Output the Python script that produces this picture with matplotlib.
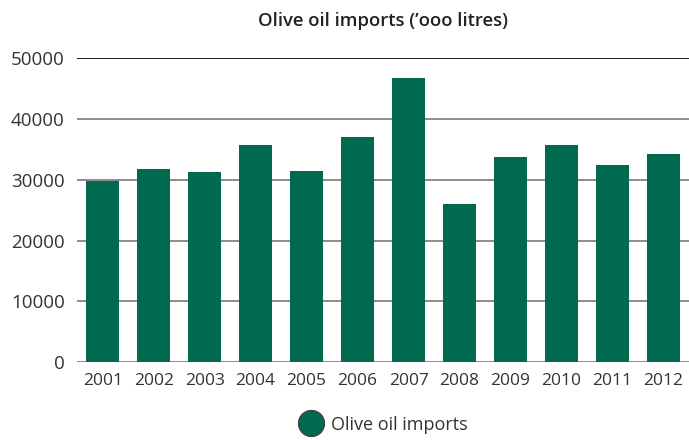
from matplotlib import pyplot as plt
from matplotlib.lines import Line2D

years = ['2001', '2002', '2003', '2004', '2005', '2006',
         '2007', '2008', '2009', '2010', '2011', '2012']
imports = [29800, 31800, 31300, 35700, 31400, 37000,
           46700, 26000, 33700, 35700, 32400, 34200]
y_ticks = [0, 10000, 20000, 30000, 40000, 50000]

green = '#006950'
text_color = '#333333'

plt.rcParams['font.family'] = ['Open Sans', 'DejaVu Sans']

fig = plt.figure(figsize=(6.89, 4.40), dpi=100)
ax = fig.add_axes([0.112, 0.177, 0.888, 0.691])

x = range(len(years))
ax.bar(x, imports, width=0.65, color=green, zorder=3)

ax.set_xlim(-0.5, len(years) - 0.5)
ax.set_ylim(0, 50000)
ax.set_xticks(list(x))
ax.set_xticklabels(years)
ax.set_yticks(y_ticks)
ax.set_yticklabels([str(v) for v in y_ticks])
ax.tick_params(axis='both', length=0, colors=text_color)
ax.tick_params(axis='y', pad=9, labelsize=13.5)
ax.tick_params(axis='x', pad=8, labelsize=12.5)

# horizontal grid lines, top one darker
for v in y_ticks:
    c = '#222222' if v == y_ticks[-1] else '#8c8c8c'
    ax.axhline(v, color=c, linewidth=1.4, zorder=1)

for s in ax.spines.values():
    s.set_visible(False)

fig.text(0.556, 0.952, "Olive oil imports (’ooo litres)", ha='center', va='center',
         fontsize=13.3, fontweight='semibold', color='#222222')

handle = Line2D([], [], marker='o', linestyle='none', markersize=19,
                markerfacecolor=green, markeredgecolor='#333333', markeredgewidth=0.6)
fig.legend([handle], ['Olive oil imports'], loc='center', bbox_to_anchor=(0.552, 0.035),
           frameon=False, fontsize=13, handletextpad=0.1, labelcolor=text_color)

fig.savefig('out.png')
